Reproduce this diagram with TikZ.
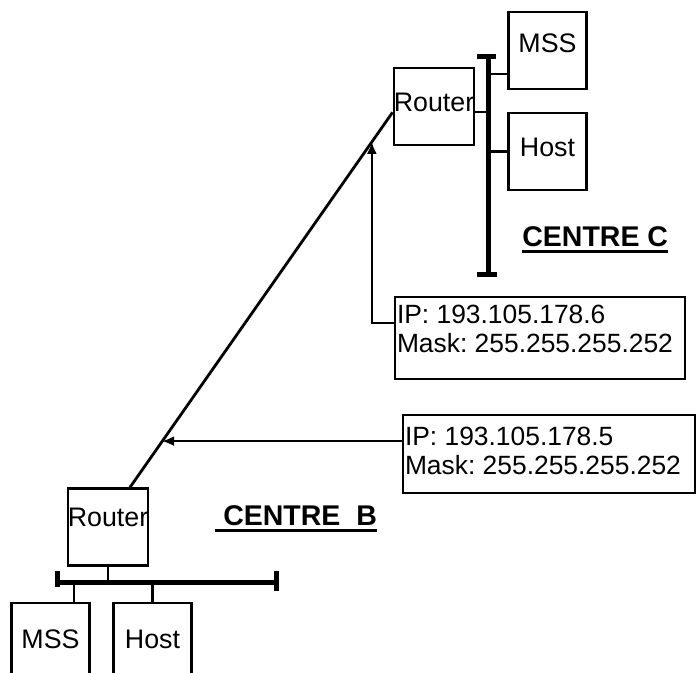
\documentclass[tikz,border=0pt]{standalone}
\usepackage{fontspec}
\setmainfont{Liberation Sans}
\usetikzlibrary{arrows.meta,calc}
\frenchspacing
\newcommand\ulabel[1]{\setbox0\hbox{#1}\rlap{\rule[-3pt]{\wd0}{1.5pt}}\box0}

\begin{document}
\begin{tikzpicture}[x=0.5pt, y=-0.5pt,
    box/.style={draw, line width=1.2pt, inner sep=0pt, minimum width=39pt,
      minimum height=38.5pt, text depth=4.5pt, font=\fontsize{13.4}{15}\selectfont},
    ipbox/.style={draw, line width=1.2pt, inner xsep=1pt, inner ysep=0pt,
      text height=10pt, font=\fontsize{13.2}{14.5}\selectfont},
    bus/.style={line width=2.5pt},
    wire/.style={line width=1.1pt},
    tip/.style={-{Latex[length=6pt,width=5pt]}},
    centre/.style={anchor=base west, inner sep=0pt,
      font=\fontsize{14.25}{16}\selectfont\bfseries}]
  \path[use as bounding box, clip] (0,0) rectangle (697,673);
  % centre C
  \node[box] (rtrC) at (434,106.5) {Router};
  \node[box, text depth=7pt] (mssC) at (547.5,50.5) {MSS};
  \node[box] (hostC) at (547.5,151.5) {Host};
  \coordinate (busCtop) at (488,57);
  \coordinate (busCbot) at (488,275);
  \draw[bus] (busCtop) -- (busCbot);
  \draw[bus] ($(busCtop)+(-11,0)$) -- ($(busCtop)+(8,0)$);
  \draw[bus] ($(busCbot)+(-11,0)$) -- ($(busCbot)+(9,0)$);
  \draw[wire] (rtrC.-8) -- (rtrC.-8 -| busCtop);
  \draw[wire] (mssC.210) -- (mssC.210 -| busCtop);
  \draw[wire] (hostC.west) -- (hostC.west -| busCtop);
  \node[centre] (lblC) at (522,247) {\ulabel{CENTRE C}};
  % centre B
  \node[box, text depth=10pt] (rtrB) at (108,527) {Router};
  \node[box, text depth=2.5pt] (mssB) at (50.5,641.5) {MSS};
  \node[box, text depth=2.5pt] (hostB) at (152.5,641.5) {Host};
  \coordinate (busBl) at (57,583);
  \coordinate (busBr) at (276,583);
  \draw[bus] (busBl) -- (busBr);
  \draw[bus] ($(busBl)+(0,-12)$) -- ($(busBl)+(0,4)$);
  \draw[bus] ($(busBr)+(0,-12)$) -- ($(busBr)+(0,8)$);
  \draw[wire] (rtrB.south) -- (rtrB.south |- busBl);
  \draw[wire] (mssB.59) -- (mssB.59 |- busBl);
  \draw[wire] (hostB.north) -- (hostB.north |- busBl);
  \node[centre] (lblB) at (215,526) {\ulabel{\ CENTRE\ \ B}};
  % link between the routers
  \draw[line width=1.4pt] (rtrC.188) -- (rtrB.61);
  \coordinate (hitC) at ($(rtrC.188)!0.079!(rtrB.61)$);
  \coordinate (hitB) at ($(rtrC.188)!0.878!(rtrB.61)$);
  % addresses
  \node[ipbox, minimum height=41pt, text depth=24pt] (ipC) at (540,338)
    {\begin{tabular}[t]{@{}p{143pt}@{}}IP: 193.105.178.6\\Mask: 255.255.255.252\end{tabular}};
  \node[ipbox, minimum height=39pt, text depth=18pt] (ipB) at (549,454)
    {\begin{tabular}[t]{@{}p{144pt}@{}}IP: 193.105.178.5\\Mask: 255.255.255.252\end{tabular}};
  \draw[wire, tip] (ipC.174) -| (hitC);
  \draw[wire, tip] (ipB.175) -- (ipB.175 -| hitB);
\end{tikzpicture}
\end{document}
